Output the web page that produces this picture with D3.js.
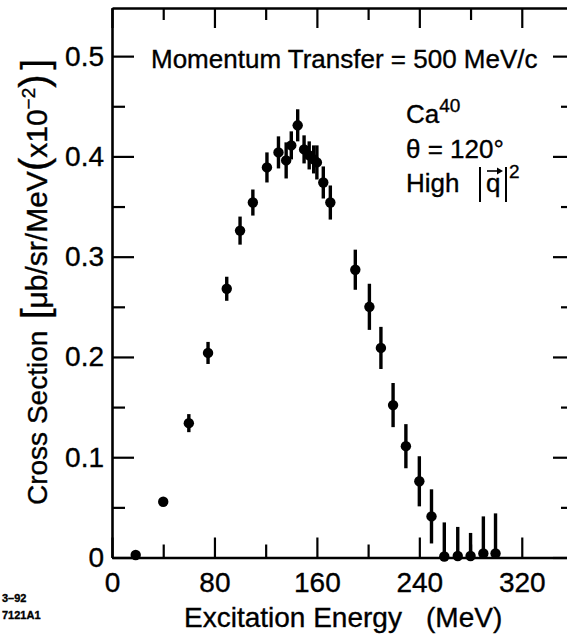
<!DOCTYPE html>
<html>
<head>
<meta charset="utf-8">
<script src="https://cdn.jsdelivr.net/npm/d3@7"></script>
<style>
  body { margin: 0; background: #fff; }
  svg { display: block; font-family: "Liberation Sans", Arial, Helvetica, sans-serif; }
  text { fill: #000; stroke: #000; stroke-width: 0.35px; }
</style>
</head>
<body>
<div id="chart"></div>
<script>
// data: Ca40, theta = 120 deg, q = 500 MeV/c
const energy = [18.5, 40, 60, 75, 89.6, 100, 110, 121, 130, 136, 140, 145, 150, 154, 157.5, 160,
                165, 170.5, 190, 201, 210, 219.5, 229.5, 240, 249.5, 259.5, 270, 280, 290, 299.5];
const crossSection = [0.0025, 0.0556, 0.134, 0.204, 0.268, 0.326, 0.354, 0.389, 0.404, 0.396, 0.411, 0.431,
                      0.407, 0.401, 0.397, 0.394, 0.374, 0.354, 0.287, 0.250, 0.209, 0.152, 0.111, 0.076,
                      0.041, 0.001, 0.0015, 0.0015, 0.004, 0.004];
const errors = [0, 0, 0.009, 0.011, 0.012, 0.014, 0.013, 0.015, 0.016, 0.018, 0.014, 0.016,
                0.014, 0.014, 0.014, 0.017, 0.016, 0.017, 0.020, 0.023, 0.021, 0.022, 0.022, 0.025,
                0.027, 0.034, 0.029, 0.023, 0.037, 0.040];
const xTicks = [0, 40, 80, 120, 160, 200, 240, 280, 320, 360];
const yTicks = [0, 0.05, 0.1, 0.15, 0.2, 0.25, 0.3, 0.35, 0.4, 0.45, 0.5];

const svgWidth = 567, svgHeight = 635;
const plot = { left: 112, right: 573, top: 8, bottom: 557.5 };

const svg = d3.select("#chart").append("svg")
  .attr("width", svgWidth)
  .attr("height", svgHeight);

svg.append("rect").attr("width", svgWidth).attr("height", svgHeight).attr("fill", "#fff");

const x = d3.scaleLinear().domain([0, 360]).range([plot.left, plot.right]);
const y = d3.scaleLinear().domain([0, 0.548]).range([plot.bottom, plot.top]);

const isMajorX = d => d % 80 === 0;
const isMajorY = d => Math.round(d * 100) % 10 === 0;

function styleAxis(g, majorFn, majorLen, minorLen, vertical) {
  g.select(".domain").attr("stroke", "#000").attr("stroke-width", 2.6);
  g.selectAll(".tick line")
    .attr("stroke", "#000")
    .attr("stroke-width", 2.2)
    .each(function (d) {
      const len = majorFn(d) ? majorLen : minorLen;
      d3.select(this).attr(vertical ? "x2" : "y2", len);
    });
  g.selectAll(".tick text")
    .style("font-size", "28px");
}

// bottom
const xAxisG = svg.append("g")
  .attr("transform", `translate(0,${plot.bottom})`)
  .call(d3.axisBottom(x).tickValues(xTicks).tickSizeOuter(0).tickSizeInner(-20).tickPadding(15)
    .tickFormat(d => isMajorX(d) ? d : ""));
styleAxis(xAxisG, isMajorX, -20, -13, false);

// top
const topAxisG = svg.append("g")
  .attr("transform", `translate(0,${plot.top})`)
  .call(d3.axisTop(x).tickValues(xTicks).tickSizeOuter(0).tickSizeInner(-20).tickFormat(""));
styleAxis(topAxisG, isMajorX, 20, 12, false);

// left
const yAxisG = svg.append("g")
  .attr("transform", `translate(${plot.left},0)`)
  .call(d3.axisLeft(y).tickValues(yTicks).tickSizeOuter(0).tickSizeInner(-22).tickPadding(8)
    .tickFormat(d => isMajorY(d) ? (d === 0 ? "0" : d3.format(".1f")(d)) : ""));
styleAxis(yAxisG, isMajorY, 22, 13, true);

// right
const rightAxisG = svg.append("g")
  .attr("transform", `translate(${plot.right},0)`)
  .call(d3.axisRight(y).tickValues(yTicks).tickSizeOuter(0).tickSizeInner(-20).tickFormat(""));
styleAxis(rightAxisG, isMajorY, -20, -12, true);

// error bars and points
const points = energy.map((e, i) => ({ e: e, v: crossSection[i], err: errors[i] }));

svg.append("g").selectAll("line")
  .data(points.filter(d => d.err > 0))
  .join("line")
  .attr("x1", d => x(d.e))
  .attr("x2", d => x(d.e))
  .attr("y1", d => y(Math.max(0, d.v - d.err)))
  .attr("y2", d => y(d.v + d.err))
  .attr("stroke", "#000")
  .attr("stroke-width", 3.4);

svg.append("g").selectAll("circle")
  .data(points)
  .join("circle")
  .attr("cx", d => x(d.e))
  .attr("cy", d => y(d.v))
  .attr("r", 5.2)
  .attr("fill", "#000");

// axis titles
svg.append("text")
  .attr("x", 184)
  .attr("y", 627)
  .style("font-size", "28px")
  .text("Excitation Energy")
  .append("tspan")
  .attr("x", 426)
  .text("(MeV)");

const yTitle = svg.append("text")
  .attr("transform", "translate(47,505) rotate(-90)")
  .style("font-size", "28px");
yTitle.append("tspan").text("Cross Section");
yTitle.append("tspan").attr("x", 186).style("font-size", "38px").attr("dy", 1).text("[");
yTitle.append("tspan").attr("dy", -1).style("font-size", "30px").text("μb/sr/MeV");
yTitle.append("tspan").style("font-size", "40px").attr("dy", 1).text("(");
yTitle.append("tspan").attr("dy", -1).style("font-size", "30px").text("x10");
yTitle.append("tspan").style("font-size", "19px").attr("dy", -12).text("−2");
yTitle.append("tspan").style("font-size", "40px").attr("dy", 13).text(")");
yTitle.append("tspan").style("font-size", "38px").attr("dx", 5).text("]");

// annotations
svg.append("text").attr("x", 151).attr("y", 68).style("font-size", "26px")
  .text("Momentum Transfer = 500 MeV/c");

const ca = svg.append("text").attr("x", 406).attr("y", 123).style("font-size", "26px");
ca.append("tspan").text("Ca");
ca.append("tspan").attr("dy", -11).style("font-size", "19px").text("40");

svg.append("text").attr("x", 406).attr("y", 158).style("font-size", "26px").text("θ = 120°");

svg.append("text").attr("x", 406).attr("y", 192).style("font-size", "26px").text("High");
svg.append("text").attr("x", 486).attr("y", 192).style("font-size", "26px").text("q");
svg.append("text").attr("x", 509).attr("y", 178).style("font-size", "19px").text("2");
// |q| bars and vector arrow
[480, 506].forEach(bx => {
  svg.append("line").attr("x1", bx).attr("x2", bx).attr("y1", 167).attr("y2", 202)
    .attr("stroke", "#000").attr("stroke-width", 2);
});
svg.append("line").attr("x1", 487).attr("x2", 500).attr("y1", 171).attr("y2", 171)
  .attr("stroke", "#000").attr("stroke-width", 1.6);
svg.append("path").attr("d", "M497,167.5 L503,171 L497,174.5 Z").attr("fill", "#000");

// figure id in the corner
svg.append("text").attr("x", 2).attr("y", 602).style("font-size", "11px").style("font-weight", "bold").text("3–92");
svg.append("text").attr("x", 2).attr("y", 619).style("font-size", "11px").style("font-weight", "bold").text("7121A1");
</script>
</body>
</html>
